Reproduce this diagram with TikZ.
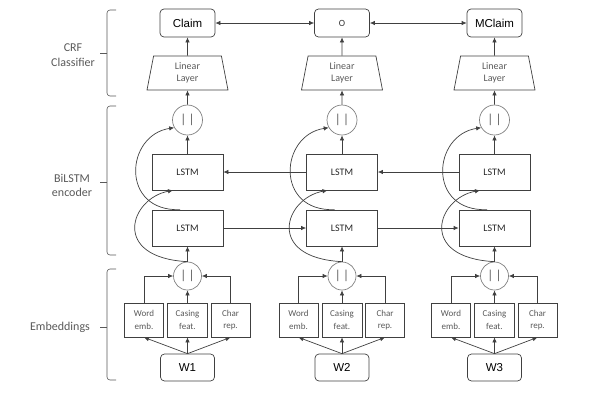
\documentclass[tikz,border=0pt]{standalone}
\usepackage{fontspec}
\setmainfont{Carlito}
\newfontfamily\arialfont{Liberation Sans}
\usetikzlibrary{arrows.meta,shapes.geometric}

\definecolor{linegray}{HTML}{404040}
\definecolor{textgray}{HTML}{595959}

\begin{document}
\begin{tikzpicture}[x=1pt,y=-1pt,color=linegray,line width=.7pt,
		>={Latex[length=5pt,width=4.5pt]},
		tagbox/.style={draw,rounded corners=4pt,minimum width=55,minimum height=28,inner sep=1pt,text=black,font=\arialfont\fontsize{11.5}{13}\selectfont},
		wordbox/.style={tagbox,minimum width=54,minimum height=27},
		linear/.style={draw,trapezium,trapezium angle=74,trapezium stretches body,minimum width=81,minimum height=34,inner sep=1pt,align=center,text=textgray,font=\fontsize{10}{12.5}\selectfont},
		lstm/.style={draw,minimum width=71,minimum height=36,text=black!85,font=\fontsize{10}{12}\selectfont},
		concat/.style={draw=gray,circle,inner sep=0pt,text=textgray,font=\fontsize{13}{13}\selectfont},
		emb/.style={draw,minimum width=39,minimum height=34,inner sep=1pt,align=center,text=textgray,font=\fontsize{9}{12.7}\selectfont},
		side/.style={align=center,text=textgray,font=\fontsize{12}{14.5}\selectfont}]
	\useasboundingbox (0,0) rectangle (616,405);
	% output tags
	\node[tagbox] (tag1) at (187.5,23) {Claim};
	\node[tagbox,text=black!80,font=\fontsize{9.5}{10}\selectfont] (tag2) at (342,23) {O};
	\node[tagbox] (tag3) at (494.5,23) {MClaim};
	\draw[<->] (tag1) -- (tag2);
	\draw[<->] (tag2) -- (tag3);
	%
	\foreach \x/\i/\w in {187.5/1/W1,342/2/W2,494.5/3/W3}{
		\node[linear] (lin\i) at (\x,73) {Linear\\Layer};
		\node[concat,minimum size=30] (cc\i) at (\x,120) {|\,|};
		\node[lstm] (up\i) at (\x,172) {LSTM};
		\node[lstm] (lo\i) at (\x,228) {LSTM};
		\node[concat,minimum size=28] (ce\i) at (\x,276) {|\,|};
		\node[emb] (we\i) at (\x-43.5,320) {Word\\emb.};
		\node[emb,minimum width=40] (cf\i) at (\x,320) {Casing\\feat.};
		\node[emb] (cr\i) at (\x+43,320) {Char\\rep.};
		\node[wordbox] (w\i) at (\x,367.5) {\w};
		%
		\draw[->] (w\i.north) -- (we\i.south);
		\draw[->] (w\i.north) -- (cf\i.south);
		\draw[->] (w\i.north) -- (cr\i.south);
		\draw[->] (we\i.north) |- (ce\i.west);
		\draw[->] (cf\i.north) -- (ce\i.south);
		\draw[->] (cr\i.north) |- (ce\i.east);
		\draw[->] (ce\i.north) -- (lo\i.south);
		\draw[->] (up\i.north) -- (cc\i.south);
		\draw[->] (cc\i.north) -- (lin\i.south);
		\draw[->] (lin\i.north) -- (tag\i.south);
		% skip connections round the LSTMs
		\draw[->] (ce\i.north) .. controls +(-77,-4) and +(-43,8) .. ([xshift=-14.5pt]up\i.south);
		\draw[->] ([xshift=-7.5pt]lo\i.north) .. controls +(-60,2) and +(-49,7.5) .. (cc\i.210);
	}
	\draw[->] (up3) -- (up2);
	\draw[->] (up2) -- (up1);
	\draw[->] (lo1) -- (lo2);
	\draw[->] (lo2) -- (lo3);
	% brackets
	\draw[textgray,line width=.6pt,rounded corners=3] (116,10) -| (107,53) |- (116,96);
	\draw[textgray,line width=.6pt] (107,53) -- (100,53);
	\draw[textgray,line width=.6pt,rounded corners=3] (116,106) -| (107,182) |- (116,255);
	\draw[textgray,line width=.6pt] (107,182) -- (100,182);
	\draw[textgray,line width=.6pt,rounded corners=3] (116,269) -| (107,327) |- (116,380);
	\draw[textgray,line width=.6pt] (107,327) -- (100,327);
	\node[side] (crf) at (73,55) {CRF\\Classifier};
	\node[side] (bilstm) at (72,185.5) {BiLSTM\\encoder};
	\node[side] (embed) at (60,327) {Embeddings};
\end{tikzpicture}
\end{document}
